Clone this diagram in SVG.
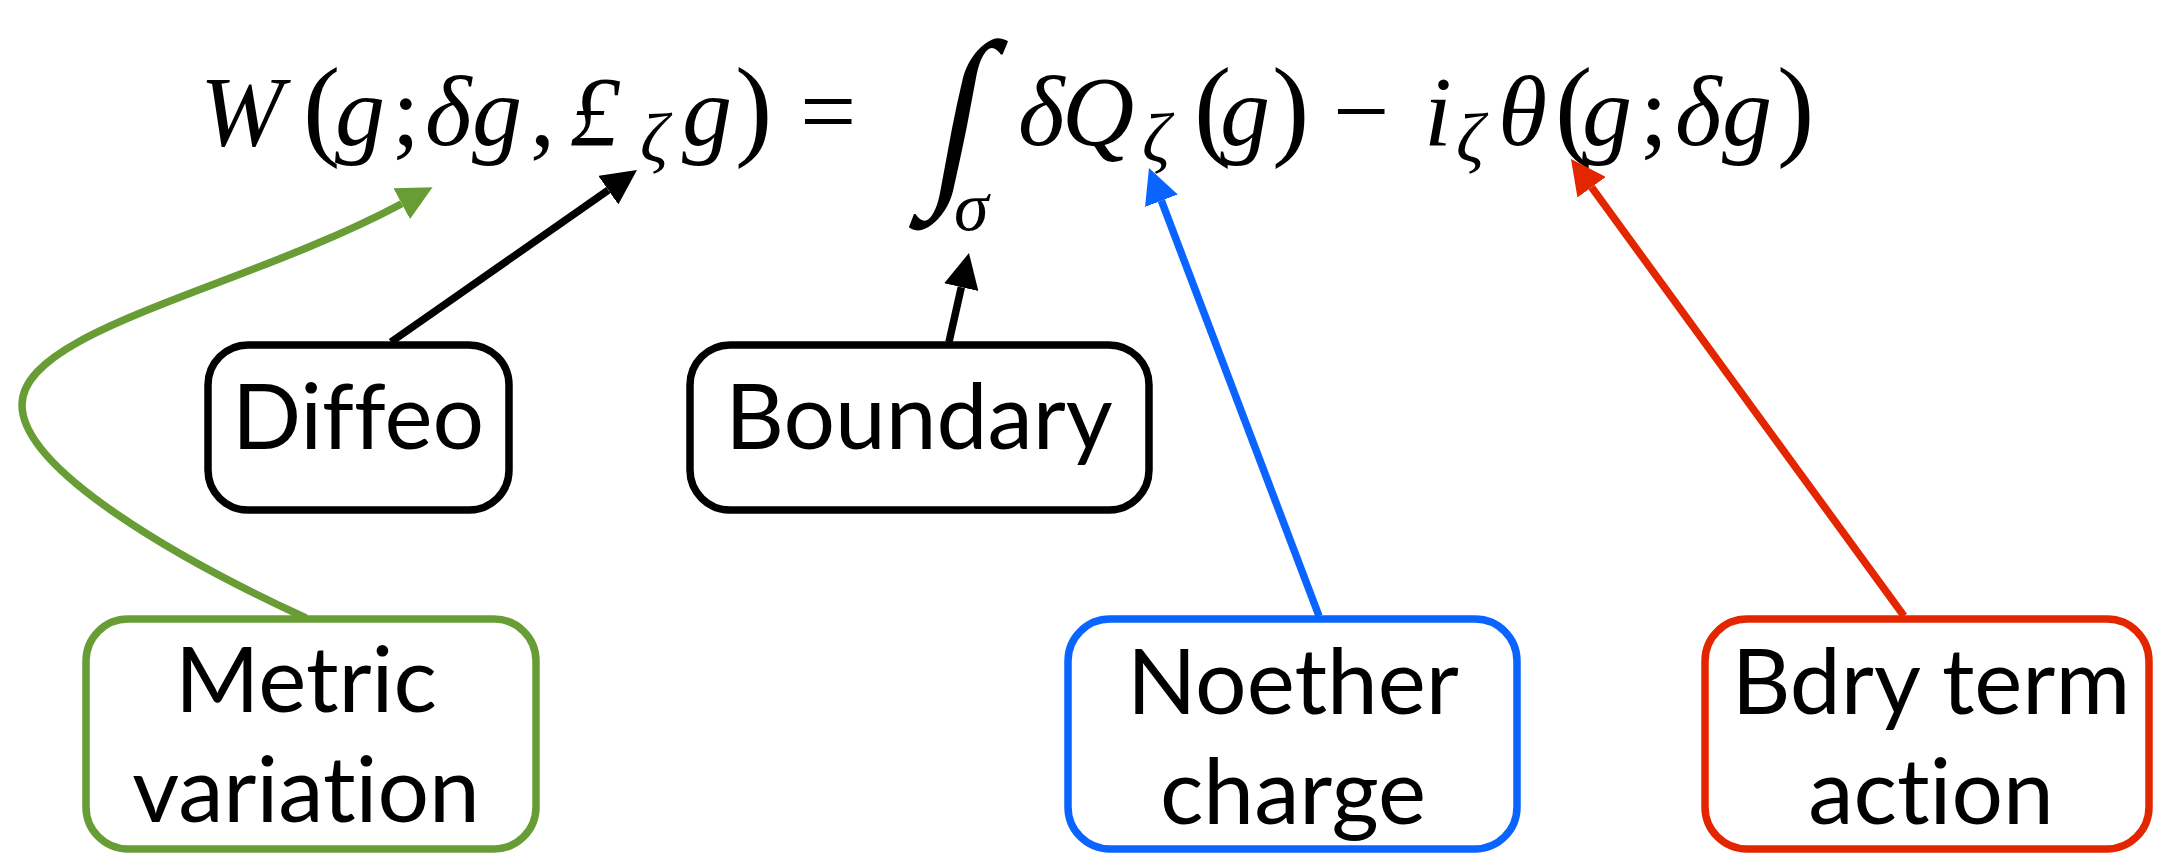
<svg xmlns="http://www.w3.org/2000/svg" width="2157" height="854" viewBox="0 0 2157 854">
<style>
.m{font-family:"Liberation Serif","DejaVu Serif",serif;font-style:italic;font-size:100px;fill:#000}
.u{font-family:"Liberation Serif","DejaVu Serif",serif;font-size:100px;fill:#000}
.s{font-size:70px}
.p{font-size:112px}
.int{font-size:196px}
.box{fill:#fff;stroke-width:7.5}
.lbl{font-family:Lato,"Open Sans",sans-serif;font-size:91px;fill:#000;text-anchor:middle;font-variant-ligatures:no-common-ligatures}
.k{stroke:#000}.g{stroke:#679D34}.b{stroke:#0A64FF}.r{stroke:#E32600}
.c{fill:none;stroke-width:7.5}
</style>
<defs>
<marker id="ak" markerUnits="userSpaceOnUse" markerWidth="35" markerHeight="35" viewBox="0 0 35 35" refX="0" refY="17.5" orient="auto"><path d="M0,0 L35,17.5 L0,35 z" fill="#000"/></marker>
<marker id="ag" markerUnits="userSpaceOnUse" markerWidth="35" markerHeight="35" viewBox="0 0 35 35" refX="0" refY="17.5" orient="auto"><path d="M0,0 L35,17.5 L0,35 z" fill="#679D34"/></marker>
<marker id="ab" markerUnits="userSpaceOnUse" markerWidth="35" markerHeight="35" viewBox="0 0 35 35" refX="0" refY="17.5" orient="auto"><path d="M0,0 L35,17.5 L0,35 z" fill="#0A64FF"/></marker>
<marker id="ar" markerUnits="userSpaceOnUse" markerWidth="35" markerHeight="35" viewBox="0 0 35 35" refX="0" refY="17.5" orient="auto"><path d="M0,0 L35,17.5 L0,35 z" fill="#E32600"/></marker>
</defs>
<rect width="2157" height="854" fill="#fff"/>
<g id="equation">
<text class="m" x="200" y="145">W</text>
<text class="u p" x="303" y="145">(</text>
<text class="m" x="335" y="145">g</text>
<text class="u" x="392" y="145">;</text>
<text class="m" x="425" y="145">δ</text>
<text class="m" x="472" y="145">g</text>
<text class="u" x="530" y="145">,</text>
<text class="m" x="570" y="145">£</text>
<text class="m s" x="640" y="162">ζ</text>
<text class="m" x="682" y="145">g</text>
<text class="u p" x="735" y="145">)</text>
<text class="u" x="800" y="145">=</text>
<text class="u int" transform="translate(950,178) skewX(-11) scale(0.85,1)" x="0" y="0" text-anchor="middle">∫</text>
<text class="m s" x="954" y="230">σ</text>
<text class="m" x="1018" y="145">δ</text>
<text class="m" x="1062" y="145">Q</text>
<text class="m s" x="1142" y="162">ζ</text>
<text class="u p" x="1194" y="145">(</text>
<text class="m" x="1220" y="145">g</text>
<text class="u p" x="1272" y="145">)</text>
<text class="u" x="1333" y="145">−</text>
<text class="m" x="1424" y="145">i</text>
<text class="m s" x="1456" y="162">ζ</text>
<text class="m" x="1498" y="145">θ</text>
<text class="u p" x="1555" y="145">(</text>
<text class="m" x="1582" y="145">g</text>
<text class="u" x="1640" y="145">;</text>
<text class="m" x="1675" y="145">δ</text>
<text class="m" x="1722" y="145">g</text>
<text class="u p" x="1777" y="145">)</text>
</g>
<g id="connectors">
<path class="c k" d="M391,342 L608.3,190.1" marker-end="url(#ak)"/>
<path class="c k" d="M949,342 L961.3,287.2" marker-end="url(#ak)"/>
<path class="c g" d="M306,618 C180,560 22,470 22,405 C22,330 240,290 401.7,203.7" marker-end="url(#ag)"/>
<path class="c b" d="M1319,616 L1161.4,200.7" marker-end="url(#ab)"/>
<path class="c r" d="M1904,616 L1591.6,187.3" marker-end="url(#ar)"/>
</g>
<g id="diffeo">
<rect class="box k" x="208" y="345" width="301" height="165" rx="40"/>
<text class="lbl" x="358" y="449">Diffeo</text>
</g>
<g id="boundary">
<rect class="box k" x="690" y="345" width="459" height="165" rx="40"/>
<text class="lbl" x="919" y="449">Boundary</text>
</g>
<g id="metric-variation">
<rect class="box g" x="86" y="619" width="450" height="230" rx="42"/>
<text class="lbl" x="306" y="712">Metric</text>
<text class="lbl" x="306" y="822">variation</text>
</g>
<g id="noether-charge">
<rect class="box b" x="1068" y="619" width="449" height="230" rx="42"/>
<text class="lbl" x="1293" y="714">Noether</text>
<text class="lbl" x="1293" y="824">charge</text>
</g>
<g id="bdry-term-action">
<rect class="box r" x="1705" y="619" width="444" height="230" rx="42"/>
<text class="lbl" x="1931" y="714">Bdry term</text>
<text class="lbl" x="1931" y="824">action</text>
</g>
</svg>
